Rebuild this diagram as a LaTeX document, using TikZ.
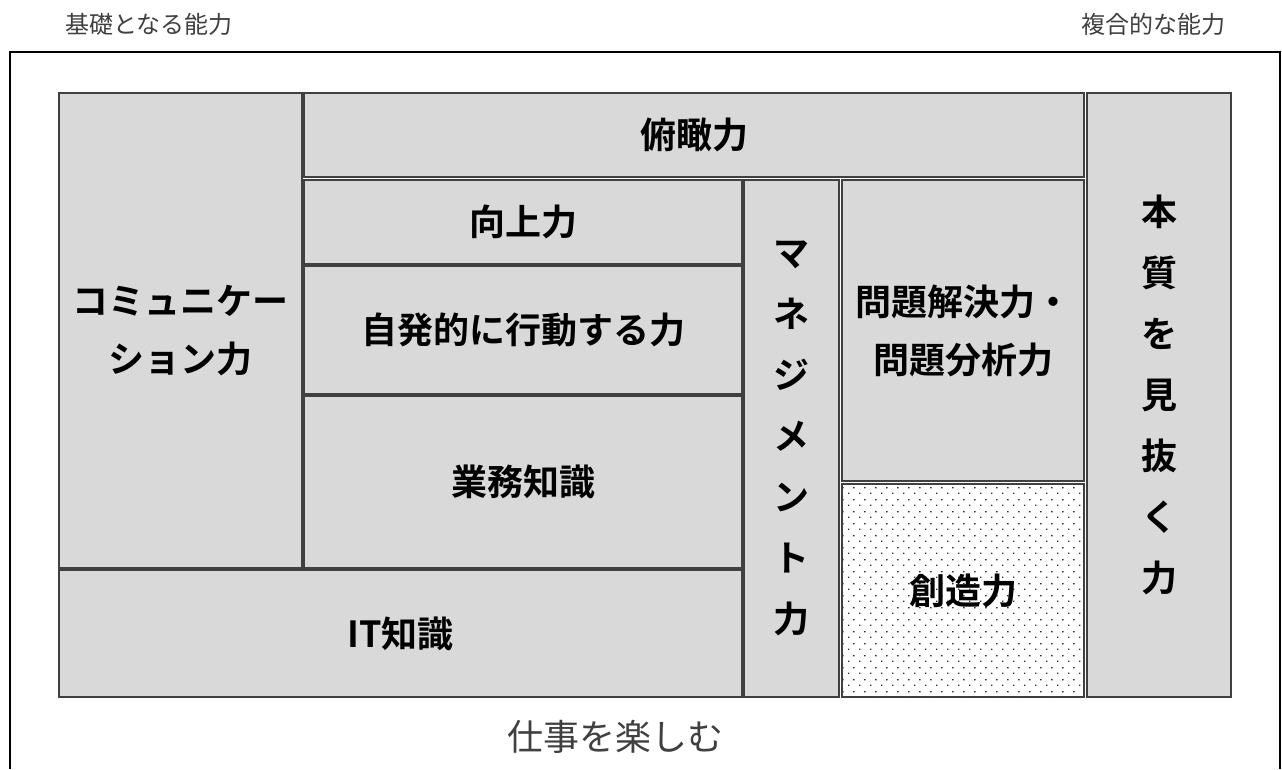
\documentclass[tikz,border=0pt]{standalone}
\usepackage{fontspec}
\setmainfont{Noto Sans CJK JP}[BoldFont={Noto Sans CJK JP Bold}]
\usetikzlibrary{patterns}
\definecolor{boxfill}{HTML}{D9D9D9}
\definecolor{boxline}{HTML}{404040}
\definecolor{labgray}{HTML}{404040}
\definecolor{dotgray}{HTML}{303030}
\pgfdeclarepatternformonly{stagdots}{\pgfpointorigin}{\pgfpoint{10.6pt}{12pt}}{\pgfpoint{10.6pt}{12pt}}{%
  \pgfpathrectangle{\pgfpoint{0pt}{0pt}}{\pgfpoint{1.5pt}{1.5pt}}%
  \pgfpathrectangle{\pgfpoint{5.3pt}{6pt}}{\pgfpoint{1.5pt}{1.5pt}}%
  \pgfusepath{fill}}
\tikzset{
  cell/.style={draw=boxline, fill=boxfill, line width=1.5pt, inner sep=0pt, align=center,
    font=\fontsize{36}{58}\selectfont\bfseries, text=black},
  vcell/.style={cell, font=\fontsize{36}{61}\selectfont\bfseries},
  toplab/.style={inner sep=0pt, font=\fontsize{24}{28}\selectfont, text=labgray},
  botlab/.style={inner sep=0pt, font=\fontsize{36}{40}\selectfont, text=labgray},
}
\begin{document}
\begin{tikzpicture}[x=1pt,y=-1pt]
\useasboundingbox (0,0) rectangle (1282,769);
\path[fill=white] (0,0) rectangle (1282,769);
\draw[line width=2pt, black] (10,769) -- (10,52) -- (1280,52) -- (1280,769);
\node[toplab] (base) at (149,24) {基礎となる能力};
\node[toplab] (comp) at (1153,24) {複合的な能力};
\node[cell, minimum width=243pt, minimum height=475pt] (comm) at (180.5,330.5) {コミュニケー\\ション力};
\node[cell, minimum width=780pt, minimum height=84pt] (fukan) at (694,135) {俯瞰力};
\node[cell, minimum width=438pt, minimum height=84pt] (kojo) at (523,222) {向上力};
\node[cell, minimum width=438pt, minimum height=128pt] (jihatsu) at (523,330) {自発的に行動する力};
\node[cell, minimum width=438pt, minimum height=172pt] (gyomu) at (523,482) {業務知識};
\node[cell, minimum width=683pt, minimum height=127pt] (it) at (400.5,633.5) {IT知識};
\node[vcell, minimum width=95pt, minimum height=517pt] (mgmt) at (791.5,438.5) {マ\\ネ\\ジ\\メ\\ン\\ト\\力};
\node[cell, minimum width=242pt, minimum height=301pt] (mondai) at (963,330.5) {問題解決力・\\問題分析力};
\node[cell, fill=white, minimum width=242pt, minimum height=213pt] (sozo) at (963,590.5) {};
\fill[pattern=stagdots, pattern color=dotgray] (843,485) rectangle (1083,696);
\node[inner sep=0pt, font=\fontsize{36}{58}\selectfont\bfseries] (sozot) at (sozo.center) {創造力};
\node[vcell, minimum width=144pt, minimum height=604pt] (honshitsu) at (1159,395) {本\\質\\を\\見\\抜\\く\\力};
\node[botlab] (tanoshimu) at (615,737) {仕事を楽しむ};
\end{tikzpicture}
\end{document}
